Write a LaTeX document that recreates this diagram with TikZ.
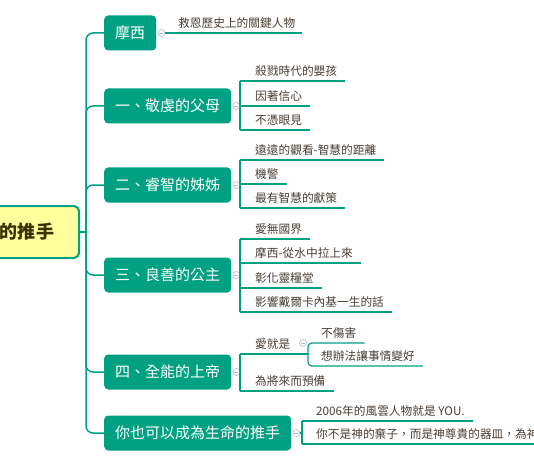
\documentclass[tikz,border=0pt]{standalone}
\usepackage{fontspec}
\newfontfamily\tcfont{Noto Sans CJK TC}
\usepackage{tikz}
\usetikzlibrary{calc, positioning}
\usepackage{xcolor}
\definecolor{mapgreen}{RGB}{0,161,131}
\definecolor{rootfill}{RGB}{255,255,158}
\definecolor{roottext}{RGB}{58,48,0}
\definecolor{leaftext}{RGB}{72,62,52}
\definecolor{foldgray}{RGB}{176,186,214}

\begin{document}
\begin{tikzpicture}[x=1pt, y=-1pt, font=\tcfont,
    root/.style={draw=mapgreen, line width=2pt, fill=rootfill, rounded corners=5pt, text=roottext,
      font=\tcfont\fontsize{18}{20}\selectfont\bfseries, minimum height=52pt, inner xsep=25pt},
    topic/.style={fill=mapgreen, rounded corners=4pt, text=white, anchor=west,
      font=\tcfont\fontsize{15}{18}\selectfont, minimum height=35pt, inner xsep=11pt},
    leaf/.style={anchor=south west, text=leaftext, font=\tcfont\fontsize{11.7}{14}\selectfont,
      inner xsep=8pt, inner ysep=4.5pt},
    trunk/.style={draw=mapgreen, line width=1.5pt, rounded corners=7pt},
    bline/.style={draw=mapgreen, line width=1.2pt},
    foldmark/.style={circle, draw=foldgray, fill=white, line width=0.6pt, minimum size=7pt, inner sep=0pt,
      path picture={\draw[foldgray, line width=0.6pt] ([xshift=-2pt]path picture bounding box.center) -- ([xshift=2pt]path picture bounding box.center);}}]
  \useasboundingbox (0,0) rectangle (534,462);
  \clip (0,0) rectangle (534,462);

  % root and main topics
  \node[root, anchor=east] (root) at (80,232) {生命的推手};
  \coordinate (spine) at (86,232);
  \node[topic] (t0) at (104,33) {摩西};
  \node[topic] (t1) at (104,106) {一、敬虔的父母};
  \node[topic] (t2) at (104,185) {二、睿智的姊姊};
  \node[topic] (t3) at (104,275) {三、良善的公主};
  \node[topic] (t4) at (104,372) {四、全能的上帝};
  \node[topic] (t5) at (104,433) {你也可以成為生命的推手};
  \draw[trunk] (root.east) -- (spine);
  \foreach \t in {t0,t1,t2,t3,t4,t5}
    \draw[trunk] (spine) -- (spine |- \t.west) -- (\t.west);
  \foreach \t/\f in {t0/f0,t1/f1,t2/f2,t3/f3,t4/f4,t5/f5}
    \node[foldmark] (\f) at ([xshift=5pt]\t.east) {};

  % moses
  \node[leaf, inner xsep=7pt] (k0) at (171,33) {救恩歷史上的關鍵人物};
  \draw[bline] (f0) -- (k0.south east);

  % parents
  \coordinate (b1) at (240,106);
  \node[leaf] (k11) at (247,81) {殺戮時代的嬰孩};
  \node[leaf] (k12) at (247,106) {因著信心};
  \node[leaf] (k13) at (247,130) {不憑眼見};
  \draw[bline] (f1) -- (b1);
  \draw[bline] (b1 |- k11.south) -- (b1 |- k13.south);
  \foreach \k in {k11,k12,k13}
    \draw[bline] (b1 |- \k.south) -- (\k.south east);

  % sister
  \coordinate (b2) at (240,185);
  \node[leaf] (k21) at (247,160) {遠遠的觀看-智慧的距離};
  \node[leaf] (k22) at (247,184) {機警};
  \node[leaf] (k23) at (247,208) {最有智慧的獻策};
  \draw[bline] (f2) -- (b2);
  \draw[bline] (b2 |- k21.south) -- (b2 |- k23.south);
  \foreach \k in {k21,k22,k23}
    \draw[bline] (b2 |- \k.south) -- (\k.south east);

  % princess
  \coordinate (b3) at (240,275);
  \node[leaf] (k31) at (247,239) {愛無國界};
  \node[leaf] (k32) at (247,263) {摩西-從水中拉上來};
  \node[leaf] (k33) at (247,288) {彰化靈糧堂};
  \node[leaf] (k34) at (247,312) {影響戴爾卡內基一生的話};
  \draw[bline] (f3) -- (b3);
  \draw[bline] (b3 |- k31.south) -- (b3 |- k34.south);
  \foreach \k in {k31,k32,k33,k34}
    \draw[bline] (b3 |- \k.south) -- (\k.south east);

  % god
  \coordinate (b4) at (240,372);
  \coordinate (s4) at (308,354);
  \node[leaf] (k41) at (247,354) {愛就是};
  \node[leaf] (k42) at (247,391) {為將來而預備};
  \node[leaf] (k411) at (313,343) {不傷害};
  \node[leaf] (k412) at (313,366) {想辦法讓事情變好};
  \draw[bline] (f4) -- (b4);
  \draw[bline] (b4 |- k41.south) -- (b4 |- k42.south);
  \draw[bline] (b4 |- k41.south) -- (s4);
  \draw[bline] (b4 |- k42.south) -- (k42.south east);
  \draw[bline, rounded corners=4pt] (k411.south east) -- (s4 |- k411.south) -- (s4 |- k412.south) -- (k412.south east);
  \node[foldmark] (f41) at (303,343) {};

  % you
  \coordinate (b5) at (302,433);
  \node[leaf] (k51) at (308,421) {2006年的風雲人物就是 YOU.};
  \node[leaf] (k52) at (308,444) {你不是神的棄子，而是神尊貴的器皿，為神};
  \draw[bline] (f5) -- (b5);
  \draw[bline] (b5 |- k51.south) -- (b5 |- k52.south);
  \foreach \k in {k51,k52}
    \draw[bline] (b5 |- \k.south) -- (\k.south east);
\end{tikzpicture}
\end{document}
